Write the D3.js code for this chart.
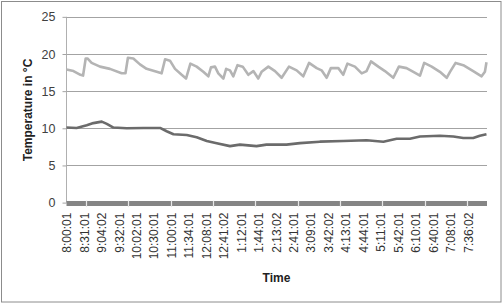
<!DOCTYPE html>
<html><head><meta charset="utf-8">
<script src="https://cdn.jsdelivr.net/npm/d3@7"></script>
<style>body{margin:0;background:#fff}svg{display:block}text{font-family:"Liberation Sans",Arial,sans-serif}</style>
</head><body><svg id="c" width="503" height="304"></svg>
<script>
// Category labels (one every equal number of samples)
const timeLabels = ["8:00:01","8:31:01","9:04:02","9:32:01","10:02:01","10:30:01","11:00:01","11:34:01","12:08:01","12:41:02","1:12:01","1:44:01","2:13:02","2:41:01","3:09:01","3:42:02","4:13:01","4:44:01","5:11:01","5:42:01","6:10:01","6:40:01","7:08:01","7:36:02"];
// x positions are in label-index units
const xEnd = 24.1;
const xTickMarks = [1.12, 3.55, 5.97, 8.40, 10.83, 13.26, 15.69, 18.11, 20.54, 22.97];
const yTicks = [0, 5, 10, 15, 20, 25];

const indoorPos = [0,0.4,0.8,0.95,1.1,1.2,1.44,1.92,2.49,3.16,3.38,3.52,3.83,4.21,4.59,5.17,5.45,5.65,5.93,6.22,6.6,6.85,7.1,7.46,7.84,8.13,8.28,8.51,8.7,8.99,9.15,9.37,9.56,9.8,10.1,10.42,10.71,10.99,11.18,11.57,11.95,12.33,12.75,13.19,13.57,13.9,14.34,14.62,14.91,15.15,15.58,15.86,16.1,16.53,16.92,17.2,17.45,17.87,18.25,18.73,19.05,19.49,19.88,20.26,20.5,20.93,21.4,21.79,21.98,22.3,22.74,23.31,23.79,23.98,24.07];
const indoorTemp = [17.9,17.7,17.2,17.1,19.4,19.4,18.8,18.3,18.0,17.4,17.4,19.5,19.4,18.6,18.0,17.6,17.4,19.3,19.1,18.0,17.2,16.7,18.7,18.3,17.6,17.0,18.2,18.3,17.4,16.7,18.0,17.8,17.0,18.5,18.3,17.2,17.7,16.7,17.6,18.3,17.7,16.8,18.3,17.8,17.0,18.8,18.1,17.8,16.8,18.1,18.1,17.2,18.7,18.3,17.4,17.7,19.0,18.3,17.7,16.8,18.3,18.1,17.6,17.1,18.8,18.3,17.6,16.8,17.6,18.8,18.5,17.7,17.0,17.6,18.9];

const outdoorPos = [0,0.58,1.16,1.54,2.02,2.31,2.69,3.45,4.41,5.36,5.74,6.13,6.89,7.46,8.04,8.61,9.37,9.94,10.89,11.46,12.61,13.38,14.52,15.86,17.2,18.16,18.92,19.68,20.26,21.4,22.17,22.74,23.31,23.69,24.07];
const outdoorTemp = [10.1,10.05,10.4,10.7,10.9,10.6,10.1,10.0,10.05,10.05,9.6,9.2,9.1,8.8,8.3,8.0,7.6,7.8,7.6,7.8,7.8,8.0,8.2,8.3,8.4,8.2,8.6,8.6,8.9,9.0,8.9,8.7,8.7,9.0,9.2];

const baselinePos = [0, 24.1];
const baselineVal = [0, 0];

const svg = d3.select("#c");
svg.append("rect").attr("x",1.5).attr("y",1.5).attr("width",499.5).attr("height",300.5)
  .attr("fill","#fff").attr("stroke","#8c8c8c");

const x = d3.scaleLinear().domain([0, xEnd]).range([66.5, 487]);
const y = d3.scaleLinear().domain([0, 25]).range([202.6, 16.85]);

// gridlines
svg.append("g").selectAll("line").data(yTicks.filter(d=>d>0)).join("line")
  .attr("x1",66).attr("x2",487).attr("y1",d=>Math.round(y(d))+0.5).attr("y2",d=>Math.round(y(d))+0.5)
  .attr("stroke","#a3a3a3");

// y axis
const yAxis = d3.axisLeft(y).tickValues(yTicks).tickSize(4).tickPadding(7);
const gy = svg.append("g").attr("transform","translate(66.5,0)").call(yAxis);
gy.select(".domain").attr("stroke","#b0b0b0").attr("d", `M0,${y(25)}V${y(0)}`);
gy.selectAll(".tick line").attr("stroke","#a3a3a3");
gy.selectAll(".tick text").attr("font-size",12.5).attr("fill","#404040");

const line = d3.line().x(d=>x(d[0])).y(d=>y(d[1]));

svg.append("path").datum(d3.zip(indoorPos, indoorTemp)).attr("d", line)
  .attr("fill","none").attr("stroke","#b4b4b4").attr("stroke-width",2.6).attr("stroke-linejoin","round");
svg.append("path").datum(d3.zip(outdoorPos, outdoorTemp)).attr("d", line)
  .attr("fill","none").attr("stroke","#6b6b6b").attr("stroke-width",2.6).attr("stroke-linejoin","round");
svg.append("path").datum(d3.zip(baselinePos, baselineVal)).attr("d", line)
  .attr("fill","none").attr("stroke","#858585").attr("stroke-width",5).attr("transform","translate(0,1)");

// tick marks across the band
svg.append("g").selectAll("line").data(xTickMarks).join("line")
  .attr("x1",d=>Math.round(x(d))+0.5).attr("x2",d=>Math.round(x(d))+0.5)
  .attr("y1",y(0)-2).attr("y2",y(0)+4.5).attr("stroke","#e8e8e8").attr("stroke-width",1.2);

// x labels
const xAxis = d3.axisBottom(x).tickValues(d3.range(timeLabels.length)).tickFormat(i=>timeLabels[i]).tickSize(0);
const gx = svg.append("g").attr("transform",`translate(0,${y(0)})`).call(xAxis);
gx.select(".domain").remove();
gx.selectAll(".tick text").attr("font-size",12).attr("fill","#333")
  .attr("text-anchor","end").attr("dy","0.35em")
  .attr("transform","translate(0,10) rotate(-90)").attr("y",0).attr("x",0);

svg.append("text").attr("x",276.5).attr("y",282).attr("text-anchor","middle")
  .attr("font-size",12).attr("font-weight","bold").attr("fill","#222").text("Time");
svg.append("text").attr("transform","translate(32,110) rotate(-90)").attr("text-anchor","middle")
  .attr("font-size",12).attr("font-weight","bold").attr("fill","#222").text("Temperature in °C");
</script></body></html>
